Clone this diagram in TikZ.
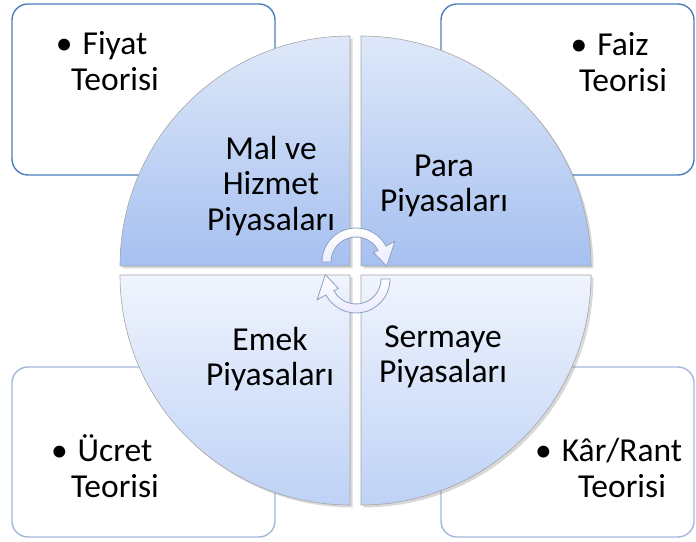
\documentclass[tikz,border=0pt]{standalone}
\usepackage{fontspec}
\setmainfont{Carlito}
\usetikzlibrary{shadows}
\definecolor{darkline}{RGB}{74,126,187}
\definecolor{paleline}{RGB}{163,184,218}
\definecolor{topA}{RGB}{222,232,249}
\definecolor{botA}{RGB}{166,192,240}
\definecolor{topB}{RGB}{240,244,253}
\definecolor{botB}{RGB}{190,210,246}
\definecolor{arrowline}{RGB}{140,160,196}

\begin{document}
\begin{tikzpicture}[x=1pt,y=1pt,
  theory/.style={draw=#1, line width=1.4pt, rounded corners=16pt, fill=white},
  quarter/.style n args={2}{draw=gray!70, line width=0.6pt, top color=#1, bottom color=#2,
    drop shadow={shadow xshift=2.5pt, shadow yshift=-2.5pt, opacity=0.3}},
  turn/.style={draw=arrowline, line width=0.8pt, top color=white, bottom color=blue!8},
  txt/.style={align=center, font=\fontsize{33.5}{35.5}\selectfont}]
\useasboundingbox (0,0) rectangle (696,541);
% boxes behind the circle
\draw [theory=darkline] (12,366) rectangle (275,537);
\draw [theory=darkline] (441,366) rectangle (694,537);
\draw [theory=paleline] (12,4) rectangle (275,174);
\draw [theory=paleline] (441,4) rectangle (694,174);
% four quarters
\draw [quarter={topA}{botA}] (350,275) -- (120,275) arc[start angle=180, end angle=90, radius=230] -- cycle;
\draw [quarter={topA}{botA}] (361,275) -- (361,505) arc[start angle=90, end angle=0, radius=230] -- cycle;
\draw [quarter={topB}{botB}] (350,266) -- (350,36) arc[start angle=270, end angle=180, radius=230] -- cycle;
\draw [quarter={topB}{botB}] (361,266) -- (591,266) arc[start angle=0, end angle=-90, radius=230] -- cycle;
% turning arrows
\draw [turn, shift={(356,279)}] (180:34) arc[start angle=180, end angle=28, radius=34] -- (28:44) -- (-8:31) -- (28:20) -- (28:25) arc[start angle=28, end angle=180, radius=25] -- cycle;
\draw [turn, shift={(356,262)}] (0:34) arc[start angle=0, end angle=-152, radius=34] -- (208:44) -- (172:31) -- (208:20) -- (208:25) arc[start angle=-152, end angle=0, radius=25] -- cycle;
% labels
\draw (115,480) node[txt] (fiyat) {\llap{\textbullet\hspace{10pt}}Fiyat\\Teorisi};
\draw (623,479) node[txt] (faiz) {\llap{\textbullet\hspace{10pt}}Faiz\\Teorisi};
\draw (115,75) node[txt] (ucret) {\llap{\textbullet\hspace{10pt}}Ücret\\Teorisi};
\draw (622,73) node[txt] (kar) {\llap{\textbullet\hspace{10pt}}Kâr/Rant\\Teorisi};
\draw (271,355) node[txt] (mal) {Mal ve\\Hizmet\\Piyasaları};
\draw (444,355) node[txt] (para) {Para\\Piyasaları};
\draw (270,182) node[txt] (emek) {Emek\\Piyasaları};
\draw (443,184) node[txt] (sermaye) {Sermaye\\Piyasaları};
\end{tikzpicture}
\end{document}
